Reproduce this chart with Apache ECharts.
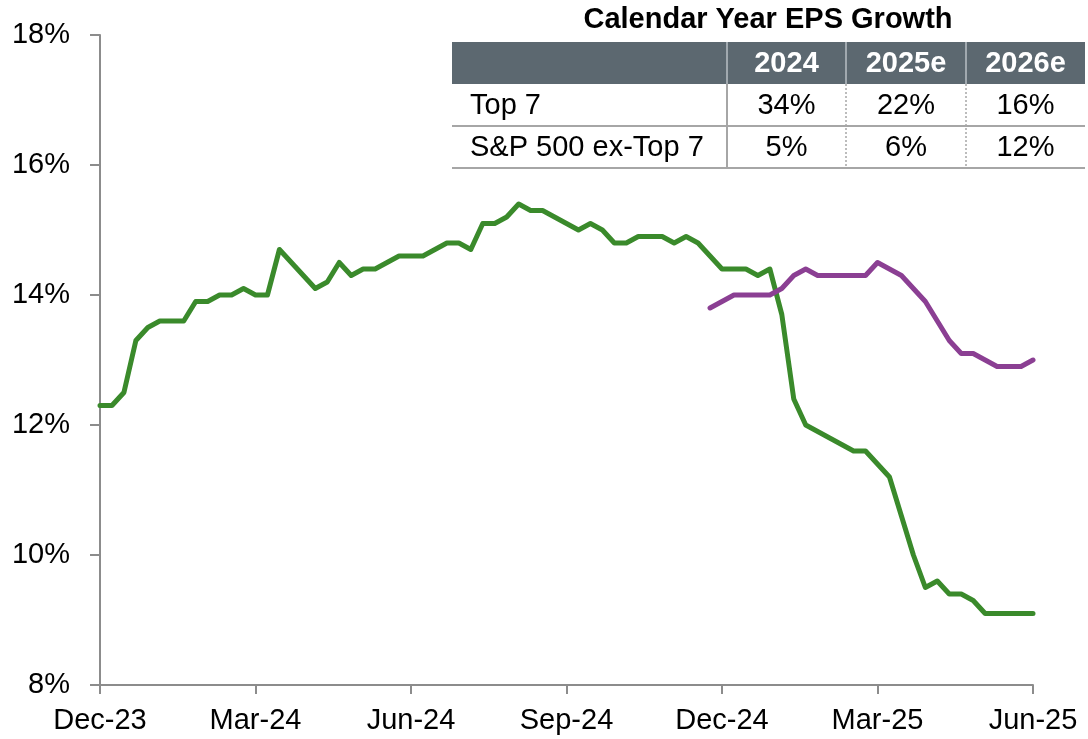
<!DOCTYPE html>
<html>
<head>
<meta charset="utf-8">
<script src="https://cdn.jsdelivr.net/npm/echarts@6/dist/echarts.min.js"></script>
<style>
  html, body { margin: 0; padding: 0; background: #fff; }
  #chart { width: 1088px; height: 739px; }
</style>
</head>
<body>
<div id="chart"></div>
<script>
// weekly dates (Fridays)
var weeks = [
  "2023-12-29",
  "2024-01-05","2024-01-12","2024-01-19","2024-01-26",
  "2024-02-02","2024-02-09","2024-02-16","2024-02-23",
  "2024-03-01","2024-03-08","2024-03-15","2024-03-22","2024-03-29",
  "2024-04-05","2024-04-12","2024-04-19","2024-04-26",
  "2024-05-03","2024-05-10","2024-05-17","2024-05-24","2024-05-31",
  "2024-06-07","2024-06-14","2024-06-21","2024-06-28",
  "2024-07-05","2024-07-12","2024-07-19","2024-07-26",
  "2024-08-02","2024-08-09","2024-08-16","2024-08-23","2024-08-30",
  "2024-09-06","2024-09-13","2024-09-20","2024-09-27",
  "2024-10-04","2024-10-11","2024-10-18","2024-10-25",
  "2024-11-01","2024-11-08","2024-11-15","2024-11-22","2024-11-29",
  "2024-12-06","2024-12-13","2024-12-20","2024-12-27",
  "2025-01-03","2025-01-10","2025-01-17","2025-01-24","2025-01-31",
  "2025-02-07","2025-02-14","2025-02-21","2025-02-28",
  "2025-03-07","2025-03-14","2025-03-21","2025-03-28",
  "2025-04-04","2025-04-11","2025-04-18","2025-04-25",
  "2025-05-02","2025-05-09","2025-05-16","2025-05-23","2025-05-30",
  "2025-06-06","2025-06-13","2025-06-20","2025-06-27"
];

// CY2025 EPS growth estimate (green), one value per week
var eps2025 = [
  12.3, 12.3, 12.5, 13.3, 13.5, 13.6, 13.6, 13.6, 13.9, 13.9,
  14.0, 14.0, 14.1, 14.0, 14.0, 14.7, 14.5, 14.3, 14.1, 14.2,
  14.5, 14.3, 14.4, 14.4, 14.5, 14.6, 14.6, 14.6, 14.7, 14.8,
  14.8, 14.7, 15.1, 15.1, 15.2, 15.4, 15.3, 15.3, 15.2, 15.1,
  15.0, 15.1, 15.0, 14.8, 14.8, 14.9, 14.9, 14.9, 14.8, 14.9,
  14.8, 14.6, 14.4, 14.4, 14.4, 14.3, 14.4, 13.7, 12.4, 12.0,
  11.9, 11.8, 11.7, 11.6, 11.6, 11.4, 11.2, 10.6, 10.0, 9.5,
  9.6, 9.4, 9.4, 9.3, 9.1, 9.1, 9.1, 9.1, 9.1
];

// CY2026 EPS growth estimate (purple), starts at week index 51
var eps2026Start = 51;
var eps2026 = [
  13.8, 13.9, 14.0, 14.0, 14.0, 14.0, 14.1, 14.3, 14.4, 14.3,
  14.3, 14.3, 14.3, 14.3, 14.5, 14.4, 14.3, 14.1, 13.9, 13.6,
  13.3, 13.1, 13.1, 13.0, 12.9, 12.9, 12.9, 13.0
];

// inset table
var tableTitle = "Calendar Year EPS Growth";
var tableCols = ["2024", "2025e", "2026e"];
var tableRows = ["Top 7", "S&P 500 ex-Top 7"];
var tableVals = [
  ["34%", "22%", "16%"],
  ["5%", "6%", "12%"]
];

var monthNames = ["Jan","Feb","Mar","Apr","May","Jun","Jul","Aug","Sep","Oct","Nov","Dec"];
function fmtDate(s) {
  var p = s.split("-");
  return monthNames[+p[1] - 1] + "-" + p[0].slice(2);
}

var FONT = "'Liberation Sans', Arial, sans-serif";
var FS = 29;
var axisGray = "#8c8c8c";

// table layout
var tX0 = 452, tX1 = 1085, hdrTop = 42, hdrH = 42, rowH = 42;
var colX = [727, 846, 966, 1085];
var graphics = [];
graphics.push({ type: "text", x: 768, y: 20,
  style: { text: tableTitle, font: "bold " + FS + "px " + FONT, fill: "#000", align: "center", verticalAlign: "middle" } });
graphics.push({ type: "rect", shape: { x: tX0, y: hdrTop, width: tX1 - tX0, height: hdrH },
  style: { fill: "#5c6870" } });
for (var c = 0; c < 3; c++) {
  var cx = (colX[c] + colX[c + 1]) / 2;
  graphics.push({ type: "text", x: cx, y: hdrTop + hdrH / 2 + 1,
    style: { text: tableCols[c], font: "bold " + FS + "px " + FONT, fill: "#fff", align: "center", verticalAlign: "middle" } });
  graphics.push({ type: "line", shape: { x1: colX[c], y1: hdrTop, x2: colX[c], y2: hdrTop + hdrH },
    style: { stroke: "#b8bfc4", lineWidth: 1.5 } });
}
for (var r = 0; r < tableRows.length; r++) {
  var cy = hdrTop + hdrH + rowH * r + rowH / 2 + 1;
  graphics.push({ type: "text", x: 470, y: cy,
    style: { text: tableRows[r], font: FS + "px " + FONT, fill: "#000", align: "left", verticalAlign: "middle" } });
  for (var c2 = 0; c2 < 3; c2++) {
    graphics.push({ type: "text", x: (colX[c2] + colX[c2 + 1]) / 2, y: cy,
      style: { text: tableVals[r][c2], font: FS + "px " + FONT, fill: "#000", align: "center", verticalAlign: "middle" } });
  }
  var ly = hdrTop + hdrH + rowH * (r + 1);
  graphics.push({ type: "line", shape: { x1: tX0, y1: ly, x2: tX1, y2: ly },
    style: { stroke: "#a6a6a6", lineWidth: 2 } });
}
var bodyTop = hdrTop + hdrH, bodyBot = hdrTop + hdrH + rowH * tableRows.length;
graphics.push({ type: "line", shape: { x1: colX[0], y1: bodyTop, x2: colX[0], y2: bodyBot },
  style: { stroke: "#a6a6a6", lineWidth: 2 } });
for (var k = 1; k < 3; k++) {
  graphics.push({ type: "line", shape: { x1: colX[k], y1: bodyTop, x2: colX[k], y2: bodyBot },
    style: { stroke: "#a6a6a6", lineWidth: 1.5, lineDash: [2, 2] } });
}

var purpleData = new Array(eps2026Start).fill(null).concat(eps2026);

var chart = echarts.init(document.getElementById("chart"));
chart.setOption({
  animation: false,
  backgroundColor: "#fff",
  textStyle: { fontFamily: FONT },
  grid: { left: 100, right: 55, top: 35, bottom: 54, containLabel: false },
  xAxis: {
    type: "category",
    data: weeks,
    boundaryGap: false,
    axisLine: { lineStyle: { color: axisGray, width: 2 } },
    axisTick: { show: true, length: 9, interval: function (i) { return i % 13 === 0; },
      lineStyle: { color: axisGray, width: 2 } },
    axisLabel: { interval: function (i) { return i % 13 === 0; }, formatter: fmtDate,
      fontSize: FS, color: "#000", margin: 21, fontFamily: FONT },
    splitLine: { show: false }
  },
  yAxis: {
    type: "value",
    min: 8, max: 18, interval: 2,
    axisLine: { show: true, lineStyle: { color: axisGray, width: 2 } },
    axisTick: { show: true, length: 10, lineStyle: { color: axisGray, width: 2 } },
    axisLabel: { formatter: "{value}%", fontSize: FS, color: "#000", margin: 30, fontFamily: FONT },
    splitLine: { show: false }
  },
  series: [
    {
      name: "CY2025 EPS growth",
      type: "line",
      data: eps2025,
      showSymbol: false,
      lineStyle: { color: "#3a8a2b", width: 5, cap: "round", join: "round" },
      itemStyle: { color: "#3a8a2b" }
    },
    {
      name: "CY2026 EPS growth",
      type: "line",
      data: purpleData,
      showSymbol: false,
      connectNulls: false,
      lineStyle: { color: "#8b3f93", width: 5, cap: "round", join: "round" },
      itemStyle: { color: "#8b3f93" }
    }
  ],
  graphic: graphics
});
</script>
</body>
</html>
